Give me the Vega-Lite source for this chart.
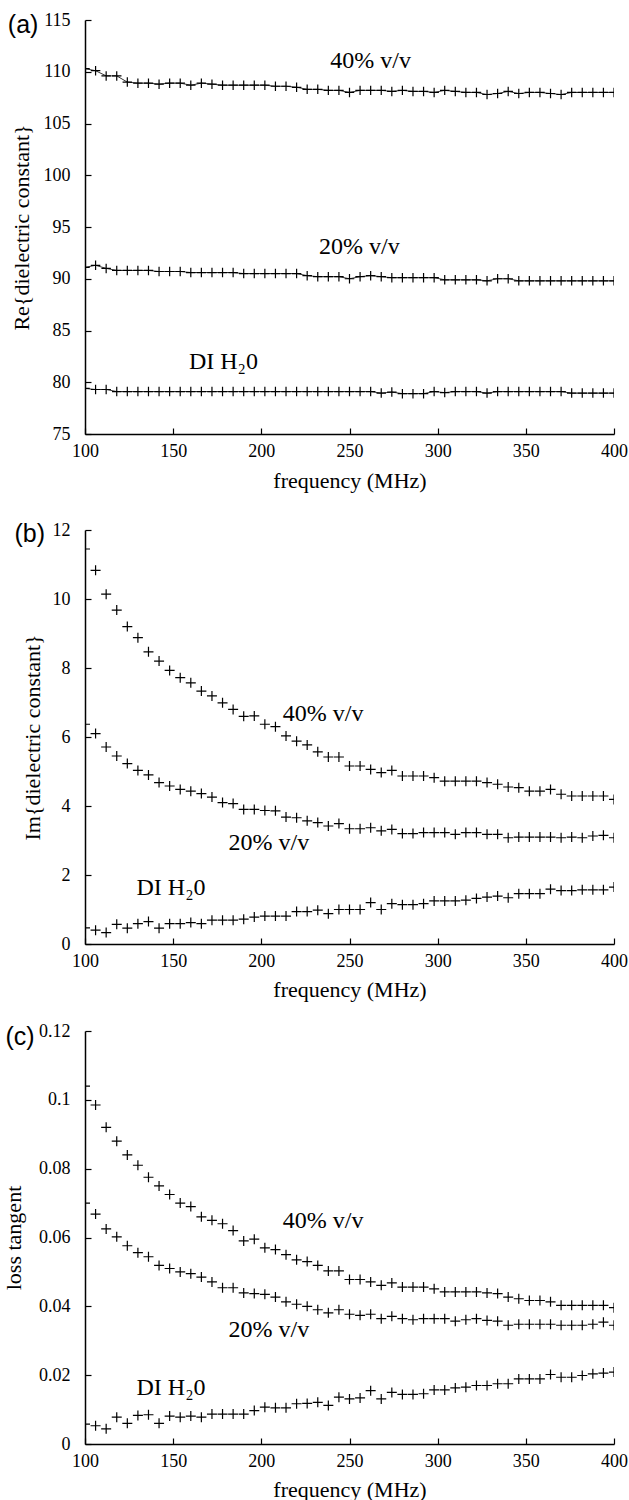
{
  "$schema": "https://vega.github.io/schema/vega-lite/v6.json",
  "padding": {"left": 2, "top": 11, "right": 0, "bottom": 0},
  "config": {
    "view": {"stroke": null},
    "font": "Liberation Serif",
    "axis": {"grid": false, "domainColor": "#000", "domainWidth": 1.5, "tickColor": "#000", "tickWidth": 1.2, "tickSize": -6, "labelFont": "Liberation Serif", "labelFontSize": 18, "labelColor": "#000", "labelFlush": false, "titleFont": "Liberation Serif", "titleFontSize": 22, "titleFontWeight": "normal", "titleColor": "#000"},
    "axisX": {"labelPadding": 28, "labelBaseline": "alphabetic", "titleBaseline": "alphabetic", "titleY": 52},
    "axisY": {"labelPadding": 21, "titleBaseline": "alphabetic"}
  },
  "datasets": {
    "a": [
      {"f":100,"s":"40","v":110.3},{"f":106,"s":"40","v":110.1},{"f":112,"s":"40","v":109.6},{"f":118,"s":"40","v":109.6},{"f":124,"s":"40","v":109.0},{"f":130,"s":"40","v":108.9},{"f":136,"s":"40","v":108.9},{"f":142,"s":"40","v":108.8},{"f":148,"s":"40","v":108.9},{"f":154,"s":"40","v":108.9},{"f":160,"s":"40","v":108.7},{"f":166,"s":"40","v":108.9},{"f":172,"s":"40","v":108.8},{"f":178,"s":"40","v":108.7},{"f":184,"s":"40","v":108.7},{"f":190,"s":"40","v":108.7},{"f":196,"s":"40","v":108.7},{"f":202,"s":"40","v":108.7},{"f":208,"s":"40","v":108.6},{"f":214,"s":"40","v":108.6},{"f":220,"s":"40","v":108.5},{"f":226,"s":"40","v":108.3},{"f":232,"s":"40","v":108.3},{"f":238,"s":"40","v":108.2},{"f":244,"s":"40","v":108.2},{"f":250,"s":"40","v":108.0},{"f":256,"s":"40","v":108.2},{"f":262,"s":"40","v":108.2},{"f":268,"s":"40","v":108.2},{"f":274,"s":"40","v":108.1},{"f":280,"s":"40","v":108.2},{"f":286,"s":"40","v":108.1},{"f":292,"s":"40","v":108.1},{"f":298,"s":"40","v":108.0},{"f":304,"s":"40","v":108.2},{"f":310,"s":"40","v":108.1},{"f":316,"s":"40","v":108.0},{"f":322,"s":"40","v":108.0},{"f":328,"s":"40","v":107.8},{"f":334,"s":"40","v":107.9},{"f":340,"s":"40","v":108.1},{"f":346,"s":"40","v":107.9},{"f":352,"s":"40","v":108.0},{"f":358,"s":"40","v":108.0},{"f":364,"s":"40","v":107.9},{"f":370,"s":"40","v":107.8},{"f":376,"s":"40","v":108.0},{"f":382,"s":"40","v":108.0},{"f":388,"s":"40","v":108.0},{"f":394,"s":"40","v":108.0},{"f":400,"s":"40","v":108.0},
      {"f":100,"s":"20","v":91.1},{"f":106,"s":"20","v":91.3},{"f":112,"s":"20","v":91.0},{"f":118,"s":"20","v":90.8},{"f":124,"s":"20","v":90.8},{"f":130,"s":"20","v":90.8},{"f":136,"s":"20","v":90.8},{"f":142,"s":"20","v":90.7},{"f":148,"s":"20","v":90.7},{"f":154,"s":"20","v":90.7},{"f":160,"s":"20","v":90.6},{"f":166,"s":"20","v":90.6},{"f":172,"s":"20","v":90.6},{"f":178,"s":"20","v":90.6},{"f":184,"s":"20","v":90.6},{"f":190,"s":"20","v":90.5},{"f":196,"s":"20","v":90.5},{"f":202,"s":"20","v":90.5},{"f":208,"s":"20","v":90.5},{"f":214,"s":"20","v":90.5},{"f":220,"s":"20","v":90.5},{"f":226,"s":"20","v":90.3},{"f":232,"s":"20","v":90.2},{"f":238,"s":"20","v":90.2},{"f":244,"s":"20","v":90.2},{"f":250,"s":"20","v":90.0},{"f":256,"s":"20","v":90.2},{"f":262,"s":"20","v":90.3},{"f":268,"s":"20","v":90.2},{"f":274,"s":"20","v":90.1},{"f":280,"s":"20","v":90.1},{"f":286,"s":"20","v":90.1},{"f":292,"s":"20","v":90.1},{"f":298,"s":"20","v":90.1},{"f":304,"s":"20","v":89.9},{"f":310,"s":"20","v":89.9},{"f":316,"s":"20","v":89.9},{"f":322,"s":"20","v":89.9},{"f":328,"s":"20","v":89.8},{"f":334,"s":"20","v":90.0},{"f":340,"s":"20","v":90.0},{"f":346,"s":"20","v":89.8},{"f":352,"s":"20","v":89.8},{"f":358,"s":"20","v":89.8},{"f":364,"s":"20","v":89.8},{"f":370,"s":"20","v":89.8},{"f":376,"s":"20","v":89.8},{"f":382,"s":"20","v":89.8},{"f":388,"s":"20","v":89.8},{"f":394,"s":"20","v":89.8},{"f":400,"s":"20","v":89.8},
      {"f":100,"s":"DI","v":79.4},{"f":106,"s":"DI","v":79.3},{"f":112,"s":"DI","v":79.3},{"f":118,"s":"DI","v":79.1},{"f":124,"s":"DI","v":79.1},{"f":130,"s":"DI","v":79.1},{"f":136,"s":"DI","v":79.1},{"f":142,"s":"DI","v":79.1},{"f":148,"s":"DI","v":79.1},{"f":154,"s":"DI","v":79.1},{"f":160,"s":"DI","v":79.1},{"f":166,"s":"DI","v":79.1},{"f":172,"s":"DI","v":79.1},{"f":178,"s":"DI","v":79.1},{"f":184,"s":"DI","v":79.1},{"f":190,"s":"DI","v":79.1},{"f":196,"s":"DI","v":79.1},{"f":202,"s":"DI","v":79.1},{"f":208,"s":"DI","v":79.1},{"f":214,"s":"DI","v":79.1},{"f":220,"s":"DI","v":79.1},{"f":226,"s":"DI","v":79.1},{"f":232,"s":"DI","v":79.1},{"f":238,"s":"DI","v":79.1},{"f":244,"s":"DI","v":79.1},{"f":250,"s":"DI","v":79.1},{"f":256,"s":"DI","v":79.1},{"f":262,"s":"DI","v":79.1},{"f":268,"s":"DI","v":78.95},{"f":274,"s":"DI","v":79.05},{"f":280,"s":"DI","v":78.9},{"f":286,"s":"DI","v":78.9},{"f":292,"s":"DI","v":78.9},{"f":298,"s":"DI","v":79.1},{"f":304,"s":"DI","v":79.0},{"f":310,"s":"DI","v":79.1},{"f":316,"s":"DI","v":79.1},{"f":322,"s":"DI","v":79.1},{"f":328,"s":"DI","v":78.95},{"f":334,"s":"DI","v":79.1},{"f":340,"s":"DI","v":79.1},{"f":346,"s":"DI","v":79.1},{"f":352,"s":"DI","v":79.1},{"f":358,"s":"DI","v":79.1},{"f":364,"s":"DI","v":79.1},{"f":370,"s":"DI","v":79.1},{"f":376,"s":"DI","v":78.95},{"f":382,"s":"DI","v":78.95},{"f":388,"s":"DI","v":78.95},{"f":394,"s":"DI","v":78.95},{"f":400,"s":"DI","v":78.95}
    ],
    "b": [
      {"f":100,"s":"40","v":11.45},{"f":106,"s":"40","v":10.83},{"f":112,"s":"40","v":10.14},{"f":118,"s":"40","v":9.68},{"f":124,"s":"40","v":9.2},{"f":130,"s":"40","v":8.88},{"f":136,"s":"40","v":8.47},{"f":142,"s":"40","v":8.2},{"f":148,"s":"40","v":7.93},{"f":154,"s":"40","v":7.72},{"f":160,"s":"40","v":7.57},{"f":166,"s":"40","v":7.33},{"f":172,"s":"40","v":7.19},{"f":178,"s":"40","v":6.99},{"f":184,"s":"40","v":6.8},{"f":190,"s":"40","v":6.6},{"f":196,"s":"40","v":6.61},{"f":202,"s":"40","v":6.37},{"f":208,"s":"40","v":6.3},{"f":214,"s":"40","v":6.03},{"f":220,"s":"40","v":5.88},{"f":226,"s":"40","v":5.77},{"f":232,"s":"40","v":5.57},{"f":238,"s":"40","v":5.42},{"f":244,"s":"40","v":5.42},{"f":250,"s":"40","v":5.16},{"f":256,"s":"40","v":5.16},{"f":262,"s":"40","v":5.06},{"f":268,"s":"40","v":4.97},{"f":274,"s":"40","v":5.03},{"f":280,"s":"40","v":4.87},{"f":286,"s":"40","v":4.87},{"f":292,"s":"40","v":4.87},{"f":298,"s":"40","v":4.82},{"f":304,"s":"40","v":4.72},{"f":310,"s":"40","v":4.72},{"f":316,"s":"40","v":4.72},{"f":322,"s":"40","v":4.72},{"f":328,"s":"40","v":4.68},{"f":334,"s":"40","v":4.63},{"f":340,"s":"40","v":4.55},{"f":346,"s":"40","v":4.53},{"f":352,"s":"40","v":4.43},{"f":358,"s":"40","v":4.43},{"f":364,"s":"40","v":4.48},{"f":370,"s":"40","v":4.34},{"f":376,"s":"40","v":4.29},{"f":382,"s":"40","v":4.29},{"f":388,"s":"40","v":4.29},{"f":394,"s":"40","v":4.29},{"f":400,"s":"40","v":4.19},
      {"f":100,"s":"20","v":6.37},{"f":106,"s":"20","v":6.1},{"f":112,"s":"20","v":5.71},{"f":118,"s":"20","v":5.45},{"f":124,"s":"20","v":5.23},{"f":130,"s":"20","v":5.03},{"f":136,"s":"20","v":4.9},{"f":142,"s":"20","v":4.68},{"f":148,"s":"20","v":4.58},{"f":154,"s":"20","v":4.48},{"f":160,"s":"20","v":4.43},{"f":166,"s":"20","v":4.36},{"f":172,"s":"20","v":4.26},{"f":178,"s":"20","v":4.1},{"f":184,"s":"20","v":4.07},{"f":190,"s":"20","v":3.9},{"f":196,"s":"20","v":3.9},{"f":202,"s":"20","v":3.87},{"f":208,"s":"20","v":3.86},{"f":214,"s":"20","v":3.68},{"f":220,"s":"20","v":3.66},{"f":226,"s":"20","v":3.57},{"f":232,"s":"20","v":3.52},{"f":238,"s":"20","v":3.42},{"f":244,"s":"20","v":3.49},{"f":250,"s":"20","v":3.34},{"f":256,"s":"20","v":3.34},{"f":262,"s":"20","v":3.37},{"f":268,"s":"20","v":3.28},{"f":274,"s":"20","v":3.32},{"f":280,"s":"20","v":3.2},{"f":286,"s":"20","v":3.2},{"f":292,"s":"20","v":3.23},{"f":298,"s":"20","v":3.23},{"f":304,"s":"20","v":3.23},{"f":310,"s":"20","v":3.18},{"f":316,"s":"20","v":3.23},{"f":322,"s":"20","v":3.23},{"f":328,"s":"20","v":3.18},{"f":334,"s":"20","v":3.18},{"f":340,"s":"20","v":3.08},{"f":346,"s":"20","v":3.1},{"f":352,"s":"20","v":3.1},{"f":358,"s":"20","v":3.1},{"f":364,"s":"20","v":3.1},{"f":370,"s":"20","v":3.08},{"f":376,"s":"20","v":3.1},{"f":382,"s":"20","v":3.08},{"f":388,"s":"20","v":3.13},{"f":394,"s":"20","v":3.15},{"f":400,"s":"20","v":3.08},
      {"f":100,"s":"DI","v":0.47},{"f":106,"s":"DI","v":0.4},{"f":112,"s":"DI","v":0.33},{"f":118,"s":"DI","v":0.57},{"f":124,"s":"DI","v":0.46},{"f":130,"s":"DI","v":0.59},{"f":136,"s":"DI","v":0.65},{"f":142,"s":"DI","v":0.46},{"f":148,"s":"DI","v":0.59},{"f":154,"s":"DI","v":0.59},{"f":160,"s":"DI","v":0.62},{"f":166,"s":"DI","v":0.59},{"f":172,"s":"DI","v":0.69},{"f":178,"s":"DI","v":0.69},{"f":184,"s":"DI","v":0.69},{"f":190,"s":"DI","v":0.72},{"f":196,"s":"DI","v":0.78},{"f":202,"s":"DI","v":0.81},{"f":208,"s":"DI","v":0.81},{"f":214,"s":"DI","v":0.81},{"f":220,"s":"DI","v":0.94},{"f":226,"s":"DI","v":0.94},{"f":232,"s":"DI","v":0.98},{"f":238,"s":"DI","v":0.88},{"f":244,"s":"DI","v":1.0},{"f":250,"s":"DI","v":1.0},{"f":256,"s":"DI","v":1.0},{"f":262,"s":"DI","v":1.2},{"f":268,"s":"DI","v":1.0},{"f":274,"s":"DI","v":1.17},{"f":280,"s":"DI","v":1.14},{"f":286,"s":"DI","v":1.14},{"f":292,"s":"DI","v":1.17},{"f":298,"s":"DI","v":1.25},{"f":304,"s":"DI","v":1.25},{"f":310,"s":"DI","v":1.25},{"f":316,"s":"DI","v":1.27},{"f":322,"s":"DI","v":1.32},{"f":328,"s":"DI","v":1.36},{"f":334,"s":"DI","v":1.39},{"f":340,"s":"DI","v":1.34},{"f":346,"s":"DI","v":1.46},{"f":352,"s":"DI","v":1.46},{"f":358,"s":"DI","v":1.46},{"f":364,"s":"DI","v":1.59},{"f":370,"s":"DI","v":1.55},{"f":376,"s":"DI","v":1.55},{"f":382,"s":"DI","v":1.57},{"f":388,"s":"DI","v":1.57},{"f":394,"s":"DI","v":1.57},{"f":400,"s":"DI","v":1.65}
    ],
    "c": [
      {"f":100,"s":"40","v":0.104},{"f":106,"s":"40","v":0.0985},{"f":112,"s":"40","v":0.092},{"f":118,"s":"40","v":0.088},{"f":124,"s":"40","v":0.084},{"f":130,"s":"40","v":0.081},{"f":136,"s":"40","v":0.0775},{"f":142,"s":"40","v":0.075},{"f":148,"s":"40","v":0.0725},{"f":154,"s":"40","v":0.070},{"f":160,"s":"40","v":0.069},{"f":166,"s":"40","v":0.066},{"f":172,"s":"40","v":0.065},{"f":178,"s":"40","v":0.064},{"f":184,"s":"40","v":0.062},{"f":190,"s":"40","v":0.059},{"f":196,"s":"40","v":0.0595},{"f":202,"s":"40","v":0.057},{"f":208,"s":"40","v":0.0565},{"f":214,"s":"40","v":0.055},{"f":220,"s":"40","v":0.0535},{"f":226,"s":"40","v":0.053},{"f":232,"s":"40","v":0.0519},{"f":238,"s":"40","v":0.0503},{"f":244,"s":"40","v":0.0503},{"f":250,"s":"40","v":0.0478},{"f":256,"s":"40","v":0.0478},{"f":262,"s":"40","v":0.0471},{"f":268,"s":"40","v":0.0461},{"f":274,"s":"40","v":0.0468},{"f":280,"s":"40","v":0.0456},{"f":286,"s":"40","v":0.0456},{"f":292,"s":"40","v":0.0456},{"f":298,"s":"40","v":0.0451},{"f":304,"s":"40","v":0.0442},{"f":310,"s":"40","v":0.0442},{"f":316,"s":"40","v":0.0442},{"f":322,"s":"40","v":0.0442},{"f":328,"s":"40","v":0.0439},{"f":334,"s":"40","v":0.0437},{"f":340,"s":"40","v":0.0427},{"f":346,"s":"40","v":0.0422},{"f":352,"s":"40","v":0.0417},{"f":358,"s":"40","v":0.0417},{"f":364,"s":"40","v":0.0413},{"f":370,"s":"40","v":0.0403},{"f":376,"s":"40","v":0.0403},{"f":382,"s":"40","v":0.0403},{"f":388,"s":"40","v":0.0403},{"f":394,"s":"40","v":0.0403},{"f":400,"s":"40","v":0.0396},
      {"f":100,"s":"20","v":0.070},{"f":106,"s":"20","v":0.0668},{"f":112,"s":"20","v":0.0625},{"f":118,"s":"20","v":0.0602},{"f":124,"s":"20","v":0.0576},{"f":130,"s":"20","v":0.0556},{"f":136,"s":"20","v":0.0544},{"f":142,"s":"20","v":0.0519},{"f":148,"s":"20","v":0.051},{"f":154,"s":"20","v":0.050},{"f":160,"s":"20","v":0.0495},{"f":166,"s":"20","v":0.0485},{"f":172,"s":"20","v":0.0471},{"f":178,"s":"20","v":0.0454},{"f":184,"s":"20","v":0.0454},{"f":190,"s":"20","v":0.0439},{"f":196,"s":"20","v":0.0437},{"f":202,"s":"20","v":0.0435},{"f":208,"s":"20","v":0.0427},{"f":214,"s":"20","v":0.0413},{"f":220,"s":"20","v":0.0406},{"f":226,"s":"20","v":0.040},{"f":232,"s":"20","v":0.039},{"f":238,"s":"20","v":0.0381},{"f":244,"s":"20","v":0.039},{"f":250,"s":"20","v":0.0377},{"f":256,"s":"20","v":0.0374},{"f":262,"s":"20","v":0.0377},{"f":268,"s":"20","v":0.0364},{"f":274,"s":"20","v":0.0371},{"f":280,"s":"20","v":0.0364},{"f":286,"s":"20","v":0.0361},{"f":292,"s":"20","v":0.0364},{"f":298,"s":"20","v":0.0364},{"f":304,"s":"20","v":0.0364},{"f":310,"s":"20","v":0.0357},{"f":316,"s":"20","v":0.0361},{"f":322,"s":"20","v":0.0364},{"f":328,"s":"20","v":0.0359},{"f":334,"s":"20","v":0.0357},{"f":340,"s":"20","v":0.0345},{"f":346,"s":"20","v":0.0348},{"f":352,"s":"20","v":0.0348},{"f":358,"s":"20","v":0.0348},{"f":364,"s":"20","v":0.0348},{"f":370,"s":"20","v":0.0345},{"f":376,"s":"20","v":0.0345},{"f":382,"s":"20","v":0.0345},{"f":388,"s":"20","v":0.0348},{"f":394,"s":"20","v":0.0354},{"f":400,"s":"20","v":0.0345},
      {"f":100,"s":"DI","v":0.0058},{"f":106,"s":"DI","v":0.0053},{"f":112,"s":"DI","v":0.0044},{"f":118,"s":"DI","v":0.0078},{"f":124,"s":"DI","v":0.006},{"f":130,"s":"DI","v":0.0083},{"f":136,"s":"DI","v":0.0085},{"f":142,"s":"DI","v":0.006},{"f":148,"s":"DI","v":0.0081},{"f":154,"s":"DI","v":0.0078},{"f":160,"s":"DI","v":0.0081},{"f":166,"s":"DI","v":0.0078},{"f":172,"s":"DI","v":0.0087},{"f":178,"s":"DI","v":0.0087},{"f":184,"s":"DI","v":0.0087},{"f":190,"s":"DI","v":0.0087},{"f":196,"s":"DI","v":0.0097},{"f":202,"s":"DI","v":0.0107},{"f":208,"s":"DI","v":0.0105},{"f":214,"s":"DI","v":0.0105},{"f":220,"s":"DI","v":0.0117},{"f":226,"s":"DI","v":0.0118},{"f":232,"s":"DI","v":0.0121},{"f":238,"s":"DI","v":0.0112},{"f":244,"s":"DI","v":0.0136},{"f":250,"s":"DI","v":0.0131},{"f":256,"s":"DI","v":0.0134},{"f":262,"s":"DI","v":0.0155},{"f":268,"s":"DI","v":0.0131},{"f":274,"s":"DI","v":0.015},{"f":280,"s":"DI","v":0.0144},{"f":286,"s":"DI","v":0.0144},{"f":292,"s":"DI","v":0.0146},{"f":298,"s":"DI","v":0.0157},{"f":304,"s":"DI","v":0.0157},{"f":310,"s":"DI","v":0.0163},{"f":316,"s":"DI","v":0.0165},{"f":322,"s":"DI","v":0.017},{"f":328,"s":"DI","v":0.017},{"f":334,"s":"DI","v":0.0175},{"f":340,"s":"DI","v":0.0175},{"f":346,"s":"DI","v":0.0189},{"f":352,"s":"DI","v":0.0189},{"f":358,"s":"DI","v":0.0189},{"f":364,"s":"DI","v":0.0202},{"f":370,"s":"DI","v":0.0194},{"f":376,"s":"DI","v":0.0194},{"f":382,"s":"DI","v":0.0199},{"f":388,"s":"DI","v":0.0204},{"f":394,"s":"DI","v":0.0206},{"f":400,"s":"DI","v":0.0209}
    ],
    "la": [{"f":262,"v":111.0,"t":"40% v/v"},{"f":255.6,"v":93.1,"t":"20% v/v"},{"f":178.5,"v":82.0,"t":"DI H₂0"}],
    "lb": [{"f":235,"v":6.66,"t":"40% v/v"},{"f":204.3,"v":2.94,"t":"20% v/v"},{"f":148.8,"v":1.63,"t":"DI H₂0"}],
    "lc": [{"f":235,"v":0.0648,"t":"40% v/v"},{"f":204.3,"v":0.0330,"t":"20% v/v"},{"f":148.8,"v":0.0163,"t":"DI H₂0"}],
    "pa": [{"f":64.9,"v":114.5,"t":"(a)"}],
    "pb": [{"f":68.7,"v":11.87,"t":"(b)"}],
    "pc": [{"f":63.2,"v":0.1183,"t":"(c)"}]
  },
  "spacing": 30,
  "align": "none",
  "vconcat": [
    {
      "width": 529, "height": 414,
      "encoding": {
        "x": {"field": "f", "type": "quantitative", "scale": {"domain": [100, 400], "nice": false, "zero": false}, "axis": {"values": [100,150,200,250,300,350,400], "labelFlush": false, "labelFont": "Liberation Serif", "titleFont": "Liberation Serif", "title": "frequency (MHz)", "titleY": 53}},
        "y": {"field": "v", "type": "quantitative", "scale": {"domain": [75, 115], "nice": false, "zero": false}, "axis": {"values": [75,80,85,90,95,100,105,110,115], "format": "d", "labelFlush": false, "labelFont": "Liberation Serif", "titleFont": "Liberation Serif", "title": "Re{dielectric constant}", "titleX": -57}}
      },
      "layer": [
        {"data": {"name": "a"}, "mark": {"type": "line", "stroke": "#000", "strokeWidth": 0.8, "clip": true}, "encoding": {"detail": {"field": "s"}}},
        {"data": {"name": "a"}, "mark": {"type": "point", "shape": "M-1,0H1M0,-1V1", "filled": false, "size": 90, "stroke": "#000", "strokeWidth": 1.2, "opacity": 1, "clip": true}},
        {"data": {"name": "la"}, "mark": {"type": "text", "font": "Liberation Serif", "fontSize": 24, "align": "center", "baseline": "middle", "color": "#000"}, "encoding": {"text": {"field": "t"}}},
        {"data": {"name": "pa"}, "mark": {"type": "text", "font": "Liberation Sans", "fontSize": 25, "align": "center", "baseline": "middle", "color": "#000"}, "encoding": {"text": {"field": "t"}}}
      ]
    },
    {
      "spacing": 22,
      "vconcat": [
        {
          "width": 529, "height": 414,
          "encoding": {
            "x": {"field": "f", "type": "quantitative", "scale": {"domain": [100, 400], "nice": false, "zero": false}, "axis": {"values": [100,150,200,250,300,350,400], "labelFlush": false, "labelFont": "Liberation Serif", "titleFont": "Liberation Serif", "title": "frequency (MHz)"}},
            "y": {"field": "v", "type": "quantitative", "scale": {"domain": [0, 12], "nice": false, "zero": false}, "axis": {"values": [0,2,4,6,8,10,12], "format": "d", "labelFlush": false, "labelFont": "Liberation Serif", "titleFont": "Liberation Serif", "title": "Im{dielectric constant}", "titleX": -46}}
          },
          "layer": [
            {"data": {"name": "b"}, "mark": {"type": "point", "shape": "M-1,0H1M0,-1V1", "filled": false, "size": 100, "stroke": "#000", "strokeWidth": 1.2, "opacity": 1, "clip": true}},
            {"data": {"name": "lb"}, "mark": {"type": "text", "font": "Liberation Serif", "fontSize": 24, "align": "center", "baseline": "middle", "color": "#000"}, "encoding": {"text": {"field": "t"}}},
            {"data": {"name": "pb"}, "mark": {"type": "text", "font": "Liberation Sans", "fontSize": 25, "align": "center", "baseline": "middle", "color": "#000"}, "encoding": {"text": {"field": "t"}}}
          ]
        },
        {
          "width": 529, "height": 413,
          "encoding": {
            "x": {"field": "f", "type": "quantitative", "scale": {"domain": [100, 400], "nice": false, "zero": false}, "axis": {"values": [100,150,200,250,300,350,400], "labelFlush": false, "labelFont": "Liberation Serif", "titleFont": "Liberation Serif", "title": "frequency (MHz)"}},
            "y": {"field": "v", "type": "quantitative", "scale": {"domain": [0, 0.12], "nice": false, "zero": false}, "axis": {"values": [0,0.02,0.04,0.06,0.08,0.1,0.12], "format": ".2~f", "labelFlush": false, "labelFont": "Liberation Serif", "titleFont": "Liberation Serif", "title": "loss tangent", "titleX": -65}}
          },
          "layer": [
            {"data": {"name": "c"}, "mark": {"type": "point", "shape": "M-1,0H1M0,-1V1", "filled": false, "size": 100, "stroke": "#000", "strokeWidth": 1.2, "opacity": 1, "clip": true}},
            {"data": {"name": "lc"}, "mark": {"type": "text", "font": "Liberation Serif", "fontSize": 24, "align": "center", "baseline": "middle", "color": "#000"}, "encoding": {"text": {"field": "t"}}},
            {"data": {"name": "pc"}, "mark": {"type": "text", "font": "Liberation Sans", "fontSize": 25, "align": "center", "baseline": "middle", "color": "#000"}, "encoding": {"text": {"field": "t"}}}
          ]
        }
      ]
    }
  ]
}
